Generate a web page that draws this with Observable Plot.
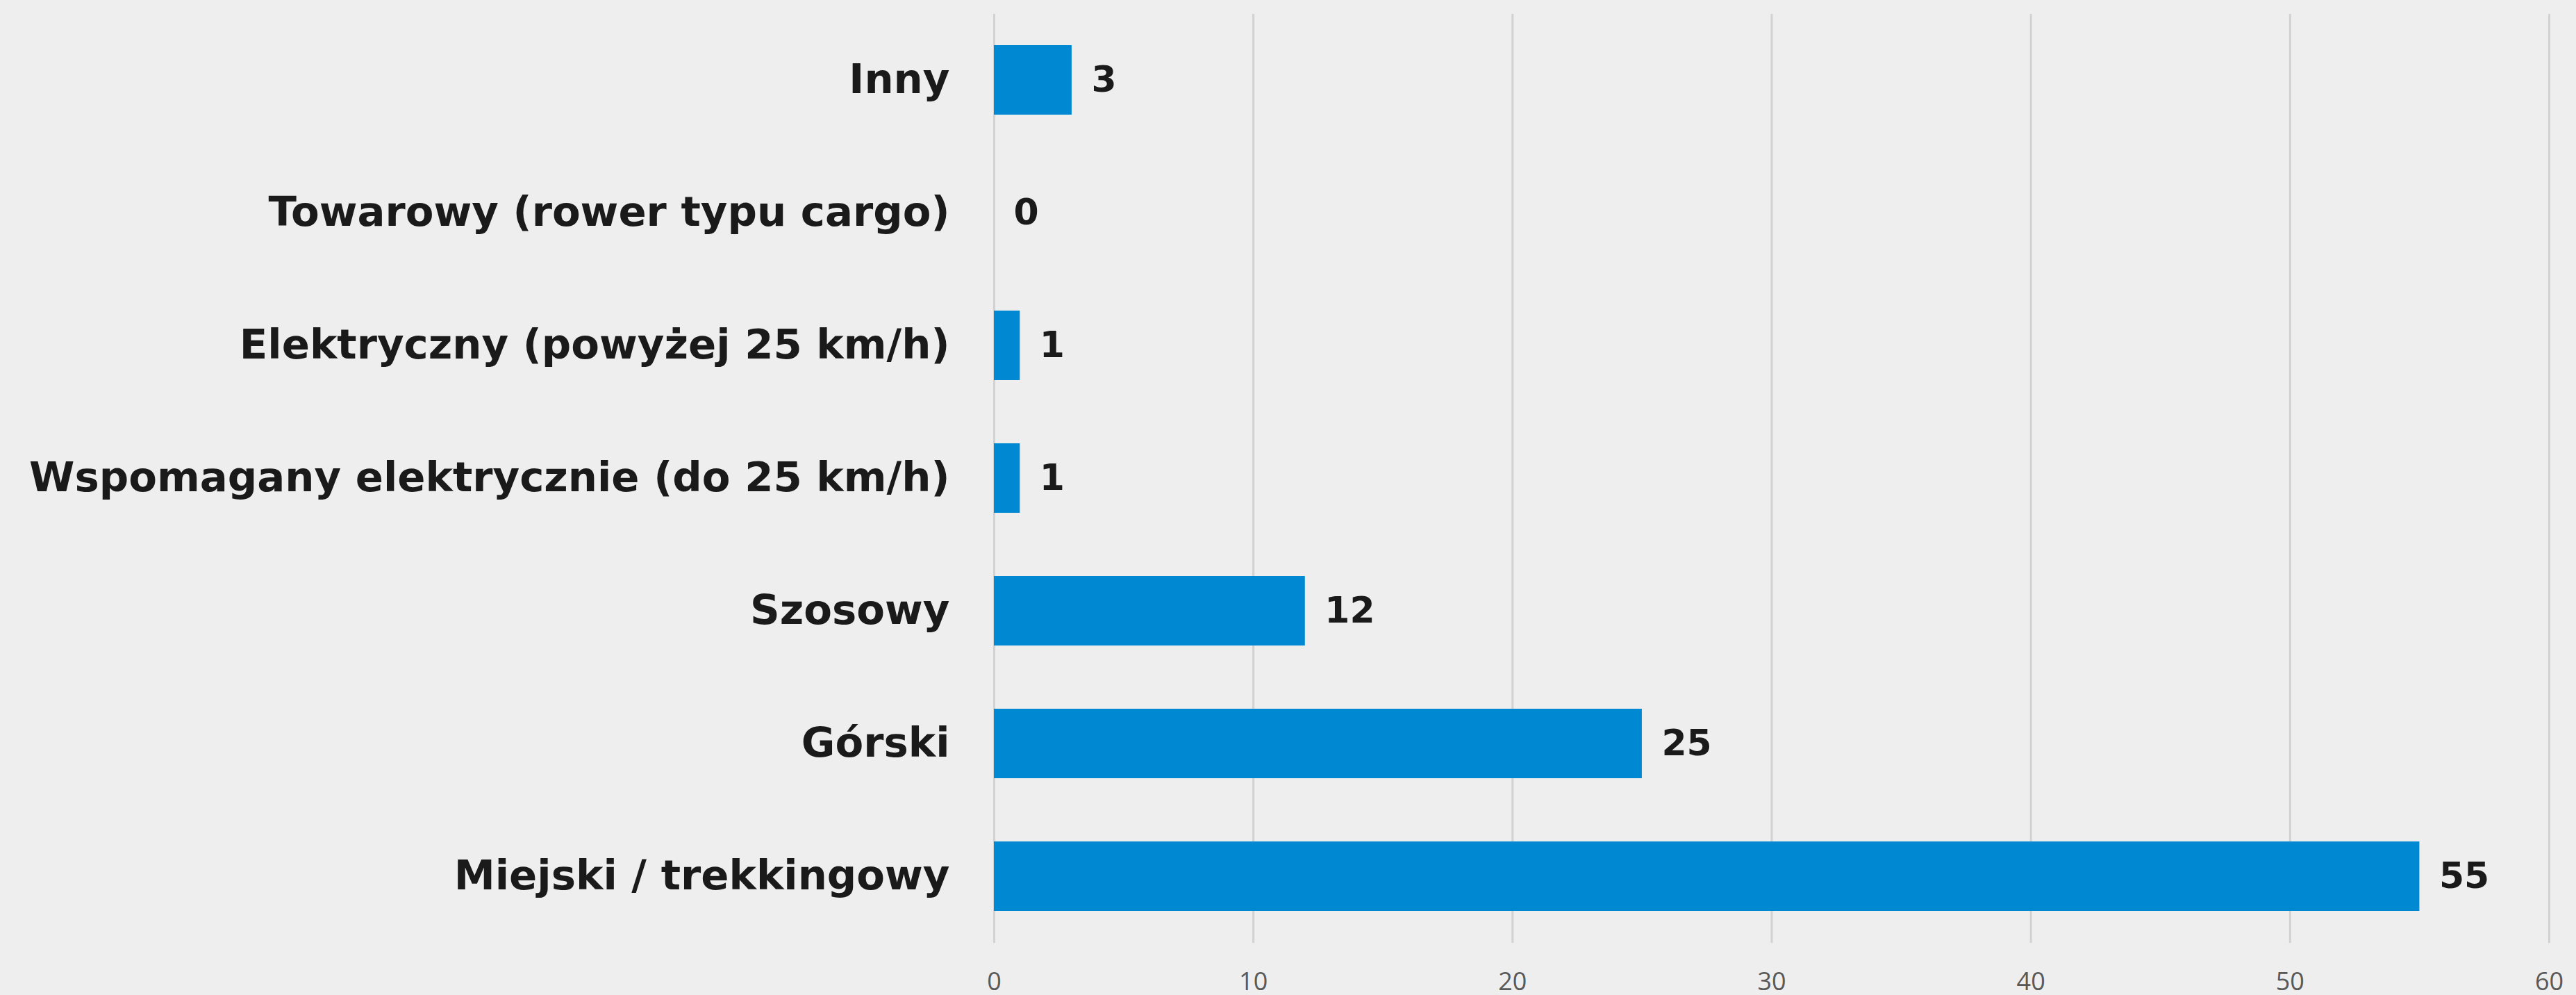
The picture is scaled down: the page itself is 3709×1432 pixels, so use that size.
<!DOCTYPE html>
<html>
<head>
<meta charset="utf-8">
<script src="https://cdn.jsdelivr.net/npm/d3@7"></script>
<script src="https://cdn.jsdelivr.net/npm/@observablehq/plot@0.6"></script>
<style>
  html, body { margin: 0; padding: 0; background: #eeeeee; }
  #chart svg { display: block; }
</style>
</head>
<body>
<div id="chart"></div>
<script>
const categories = [
  "Inny",
  "Towarowy (rower typu cargo)",
  "Elektryczny (powyżej 25 km/h)",
  "Wspomagany elektrycznie (do 25 km/h)",
  "Szosowy",
  "Górski",
  "Miejski / trekkingowy"
];
const values = [3, 0, 1, 1, 12, 25, 55];
const xTicks = [0, 10, 20, 30, 40, 50, 60];

const data = categories.map((c, i) => ({category: c, value: values[i]}));

const chart = Plot.plot({
  width: 3709,
  height: 1432,
  marginLeft: 1431,
  marginRight: 39,
  marginTop: 20,
  marginBottom: 75,
  style: {background: "#eeeeee", overflow: "visible"},
  x: {domain: [0, 60], ticks: xTicks},
  y: {domain: categories, paddingInner: 0.476, paddingOuter: 0.238},
  marks: [
    Plot.ruleX(xTicks, {stroke: "#d2d2d2", strokeWidth: 3}),
    Plot.barX(data, {x: "value", y: "category", fill: "#0089d2"}),
    Plot.text(data, {
      x: "value", y: "category", text: d => String(d.value),
      textAnchor: "start", dx: 28, fontSize: 52, fontWeight: "bold",
      fill: "#1a1a1a", fontFamily: "DejaVu Sans"
    }),
    Plot.axisY({
      tickSize: 0, tickPadding: 64, label: null,
      fontSize: 59.3, fontWeight: "bold", fill: "#1a1a1a", fontFamily: "DejaVu Sans"
    }),
    Plot.axisX({
      ticks: xTicks, tickSize: 0, tickPadding: 42, label: null,
      fontSize: 36, fill: "#595959", fontFamily: "Open Sans"
    })
  ]
});
document.getElementById("chart").appendChild(chart);
</script>
</body>
</html>
